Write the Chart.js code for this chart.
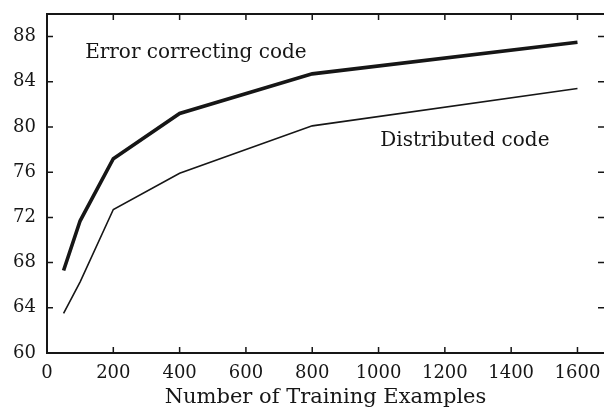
<!DOCTYPE html>
<html>
<head>
<meta charset="utf-8">
<script src="https://cdn.jsdelivr.net/npm/chart.js@4"></script>
<style>
  html, body { margin: 0; padding: 0; background: #fff; overflow: hidden; }
  #wrap { width: 604px; height: 410px; }
</style>
</head>
<body>
<div id="wrap"><canvas id="grafico" width="604" height="410"></canvas></div>
<script>
const trainingExamples = [50, 100, 200, 400, 800, 1600];
const errorCorrecting = [67.3, 71.7, 77.2, 81.2, 84.7, 87.5];
const distributed = [63.5, 66.3, 72.7, 75.9, 80.1, 83.4];
const seriesNames = ["Error correcting code", "Distributed code"];
const xTitle = "Number of Training Examples";

const serif = "'DejaVu Serif', 'Liberation Serif', serif";
const ink = "#161616";

function toPoints(ys) {
  return trainingExamples.map((x, i) => ({ x: x, y: ys[i] }));
}

function noOverhang(s) {
  s.paddingTop = 0; s.paddingBottom = 0;
  s.paddingLeft = 0; s.paddingRight = 0;
}

// ticks pointing inward on all four sides, plus the top border
const frameTicks = {
  id: "frameTicks",
  afterDraw(chart) {
    const { ctx, chartArea: a, scales } = chart;
    const len = 6;
    ctx.save();
    ctx.strokeStyle = ink;
    ctx.lineWidth = 1.5;
    ctx.beginPath();
    scales.x.ticks.forEach((t) => {
      if (t.value === 0) return;
      const px = scales.x.getPixelForValue(t.value);
      ctx.moveTo(px, a.bottom); ctx.lineTo(px, a.bottom - len);
      ctx.moveTo(px, a.top); ctx.lineTo(px, a.top + len);
    });
    scales.y.ticks.forEach((t) => {
      if (t.value === 60) return;
      const py = scales.y.getPixelForValue(t.value);
      ctx.moveTo(a.left, py); ctx.lineTo(a.left + len, py);
      ctx.moveTo(a.right, py); ctx.lineTo(a.right - len, py);
    });
    ctx.stroke();
    ctx.lineWidth = 2;
    ctx.beginPath();
    ctx.moveTo(a.left, a.top); ctx.lineTo(a.right, a.top);
    ctx.stroke();

    // curve labels
    ctx.fillStyle = ink;
    ctx.font = "20px " + serif;
    ctx.textBaseline = "middle";
    ctx.textAlign = "left";
    ctx.fillText(seriesNames[0], scales.x.getPixelForValue(115), scales.y.getPixelForValue(86.6));
    ctx.fillText(seriesNames[1], scales.x.getPixelForValue(1005), scales.y.getPixelForValue(78.8));
    ctx.restore();
  }
};

new Chart(document.getElementById("grafico").getContext("2d"), {
  type: "line",
  data: {
    datasets: [{
      label: seriesNames[0],
      data: toPoints(errorCorrecting),
      borderColor: ink,
      borderWidth: 3.6,
      pointRadius: 0,
      tension: 0
    }, {
      label: seriesNames[1],
      data: toPoints(distributed),
      borderColor: ink,
      borderWidth: 1.6,
      pointRadius: 0,
      tension: 0
    }]
  },
  options: {
    responsive: false,
    animation: false,
    layout: { padding: { top: 14, right: 0, left: 0, bottom: 0 } },
    plugins: { legend: { display: false }, tooltip: { enabled: false } },
    scales: {
      x: {
        type: "linear",
        min: 0,
        max: 1680,
        afterFit: (s) => { s.height = 57; noOverhang(s); },
        grid: { display: false, drawTicks: false },
        border: { display: true, color: ink, width: 2 },
        ticks: {
          stepSize: 200,
          includeBounds: false,
          padding: 10,
          maxRotation: 0,
          color: ink,
          font: { family: serif, size: 18 },
          callback: (v) => String(v)
        },
        title: {
          display: true,
          text: xTitle,
          color: ink,
          padding: { top: 0, bottom: 0 },
          font: { family: serif, size: 21 }
        }
      },
      y: {
        min: 60,
        max: 90,
        afterFit: (s) => { s.width = 47; noOverhang(s); },
        grid: { display: false, drawTicks: false },
        border: { display: true, color: ink, width: 2 },
        ticks: {
          stepSize: 4,
          includeBounds: false,
          padding: 11,
          color: ink,
          font: { family: serif, size: 18 }
        }
      }
    }
  },
  plugins: [frameTicks]
});
</script>
</body>
</html>
